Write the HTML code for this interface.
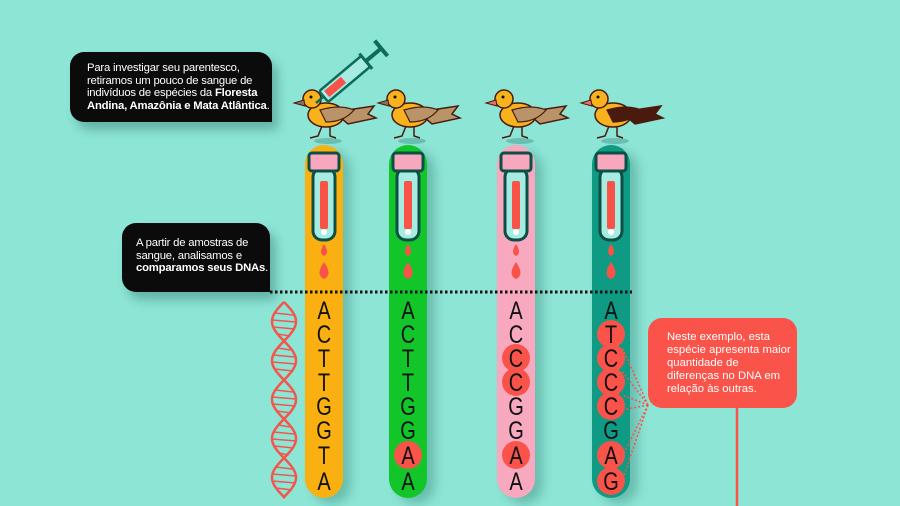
<!DOCTYPE html>
<html><head><meta charset="utf-8"><style>
body{margin:0;width:900px;height:506px;overflow:hidden;background:#8de5d6;font-family:"Liberation Sans","DejaVu Sans",sans-serif;position:relative}
.box{position:absolute;background:#0b0b0b;color:#fff;font-size:11.3px;line-height:12.5px;box-shadow:6px 8px 10px rgba(0,70,60,.3);letter-spacing:-.2px}
.bar{position:absolute;top:145px;width:38px;height:353px;border-radius:19px;box-shadow:8px 6px 10px rgba(0,70,60,.25)}
.let{position:absolute;width:38px;text-align:center;font-size:25px;line-height:24px;color:#111;transform:scaleX(.8)}
.dot{position:absolute;width:28px;height:28px;border-radius:50%;background:#f9534a}
</style></head><body>
<div class="box" style="left:70px;top:52px;width:202px;height:70px;border-radius:14px 14px 0 14px;">
<div style="padding:10px 0 0 17px">Para investigar seu parentesco,<br>retiramos um pouco de sangue de<br>indivíduos de espécies da <b>Floresta<br>Andina, Amazônia e Mata Atlântica</b>.</div></div>
<div class="box" style="left:122px;top:223px;width:148px;height:69px;border-radius:14px 14px 0 14px;">
<div style="padding:14px 0 0 14px">A partir de amostras de<br>sangue, analisamos e<br><b>comparamos seus DNAs</b>.</div></div>

<div class="bar" style="left:305px;background:#fbb011"></div>
<div class="bar" style="left:389px;background:#12c62a"></div>
<div class="bar" style="left:497px;background:#f8a8bf"></div>
<div class="bar" style="left:592px;background:#0e9a83"></div>

<svg width="900" height="506" style="position:absolute;left:0;top:0">
<line x1="270" y1="292" x2="632" y2="292" stroke="#111" stroke-width="3" stroke-dasharray="2.5 2.5"/>
<g id="tubes"></g>
<g id="birds"></g>
<g transform="translate(316,103) rotate(-40)">
<rect x="10" y="-7" width="55" height="14" rx="2" fill="#a7ece2" stroke="#0d6b5a" stroke-width="2.5"/>
<rect x="14" y="-4" width="22" height="8" fill="#f95349"/>
<line x1="0" y1="0" x2="10" y2="0" stroke="#0d6b5a" stroke-width="2.5"/>
<line x1="65" y1="0" x2="85" y2="0" stroke="#0d6b5a" stroke-width="4"/>
<line x1="85" y1="-10" x2="85" y2="10" stroke="#0d6b5a" stroke-width="4"/>
<line x1="65" y1="-10" x2="65" y2="10" stroke="#0d6b5a" stroke-width="3"/>
</g>
<g id="helix" stroke="#f2564c" stroke-width="2.5" fill="none"></g>
<g>
<line x1="737" y1="400" x2="737" y2="506" stroke="#f9534a" stroke-width="2.5"/>
<rect x="648" y="318" width="149" height="90" rx="14" fill="#f9534a"/>
<g stroke="#f9534a" stroke-width="1.5" stroke-dasharray="2 2">
<line x1="648" y1="405" x2="622" y2="347"/><line x1="648" y1="405" x2="622" y2="371"/>
<line x1="648" y1="405" x2="622" y2="395"/><line x1="648" y1="405" x2="622" y2="410"/>
<line x1="648" y1="405" x2="622" y2="457"/><line x1="648" y1="405" x2="622" y2="481"/>
</g>
<text fill="#fff" font-size="11.3" font-family="Liberation Sans, sans-serif"><tspan x="667" y="340">Neste exemplo, esta</tspan><tspan x="667" y="353">espécie apresenta maior</tspan><tspan x="667" y="366">quantidade de</tspan><tspan x="667" y="379">diferenças no DNA em</tspan><tspan x="667" y="392">relação às outras.</tspan></text>
</g>
</svg>
<div id="seq"></div>
<script>
const seqs=["ACTTGGTA","ACTTGGAA","ACCCGGAA","ATCCCGAG"];
const diffs=[[],[6],[2,3,6],[1,2,3,4,6,7]];
const cols=[305,389,497,592];
const ys=[299,323,347,371,395,419,444,470];
const seqDiv=document.getElementById('seq');
seqs.forEach((s,c)=>{
  s.split('').forEach((ch,i)=>{
    if(diffs[c].includes(i)){
      const d=document.createElement('div');d.className='dot';
      
      
      d.style.left=(cols[c]+5)+'px';d.style.top=(ys[i]-3)+'px';seqDiv.appendChild(d);
    }
    const l=document.createElement('div');l.className='let';l.textContent=ch;
    
    
    l.style.left=cols[c]+'px';l.style.top=ys[i]+'px';seqDiv.appendChild(l);
  });
});
const NS='http://www.w3.org/2000/svg';
const tubes=document.getElementById('tubes');
cols.forEach(x=>{
  const cx=x+19;
  const g=document.createElementNS(NS,'g');
  
  
  g.innerHTML=`<rect x="${cx-11}" y="168" width="22" height="72" rx="9" fill="#a7ece2" stroke="#0d4f45" stroke-width="3"/>
  <rect x="${cx-4}" y="181" width="8" height="48" rx="2" fill="#f95349"/>
  <circle cx="${cx}" cy="232" r="3" fill="#fff"/>
  <rect x="${cx-15}" y="153" width="30" height="18" rx="3" fill="#f7a8bf" stroke="#0d4f45" stroke-width="3"/>
  <path d="M${cx} 244 q-6 9 0 12 q6 -3 0 -12Z" fill="#f95349"/>
  <path d="M${cx} 262 q-9 13 0 17 q9 -4 0 -17Z" fill="#f95349"/>`;
  tubes.appendChild(g);
});
const birds=document.getElementById('birds');
const wing=['#b89468','#b89468','#b89468','#4a1a0e'];
cols.forEach((x,i)=>{
  const cx=x+19;
  const g=document.createElementNS(NS,'g');
  
  
  g.innerHTML=`<ellipse cx="${cx+4}" cy="141" rx="14" ry="3" fill="rgba(0,80,70,.25)"/>
  <path d="M${cx+10} 112 l40 -6 l-6 8 l8 4 l-28 6Z" fill="${wing[i]}" stroke="#4a1a0e" stroke-width="1.5"/>
  <ellipse cx="${cx+2}" cy="115" rx="18" ry="12" fill="#f7b21e" stroke="#4a1a0e" stroke-width="1.5"/>
  <path d="M${cx-4} 110 q20 -6 34 0 q-10 12 -28 12Z" fill="${wing[i]}" stroke="#4a1a0e" stroke-width="1.2"/>
  <circle cx="${cx-12}" cy="99" r="9" fill="#f7b21e" stroke="#4a1a0e" stroke-width="1.5"/>
  <path d="M${cx-20} 100 l-10 3 l11 3Z" fill="${i>1?'#f07060':'#8a7060'}" stroke="#4a1a0e" stroke-width="1"/>
  <circle cx="${cx-13}" cy="97" r="1.5" fill="#111"/>
  <path d="M${cx-2} 126 l-4 10 l-8 2 M${cx+6} 126 l0 10 l6 2" stroke="#4a1a0e" stroke-width="1.5" fill="none"/>`;
  birds.appendChild(g);
});
const helix=document.getElementById('helix');
let p1='',p2='';
for(let y=302;y<=498;y+=2){const ph=(y-302)/78*2*Math.PI;const dx=12*Math.sin(ph);
p1+=(y===302?'M':'L')+(284+dx)+' '+y+' ';p2+=(y===302?'M':'L')+(284-dx)+' '+y+' ';}
[p1,p2].forEach(d=>{const p=document.createElementNS(NS,'path');p.setAttribute('d',d);


helix.appendChild(p);});
for(let y=306;y<496;y+=7){const ph=(y-302)/78*2*Math.PI;const dx=12*Math.sin(ph);
if(Math.abs(dx)<4)continue;
const l=document.createElementNS(NS,'line');


l.setAttribute('stroke-width','1.5');
l.setAttribute('x1',284-Math.abs(dx));l.setAttribute('x2',284+Math.abs(dx));l.setAttribute('y1',y);l.setAttribute('y2',y+2);helix.appendChild(l);}
</script>
</body></html>
